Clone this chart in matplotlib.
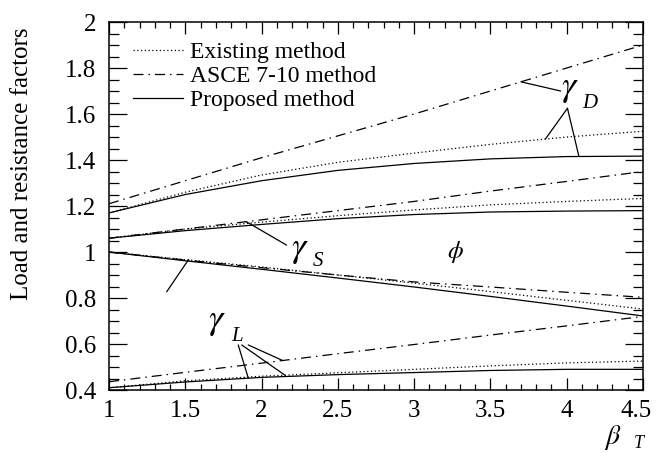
import numpy as np
import matplotlib
matplotlib.use("Agg")
import matplotlib.pyplot as plt
import matplotlib.transforms as mtransforms
from matplotlib.ticker import MultipleLocator

plt.rcParams['font.family'] = 'serif'
plt.rcParams['font.serif'] = ['Liberation Serif', 'DejaVu Serif']
plt.rcParams['mathtext.fontset'] = 'stix'

# target reliability index
beta = [1.0, 1.5, 2.0, 2.5, 3.0, 3.5, 4.0, 4.5]

# dead load factor
gD_exist = [1.17, 1.26, 1.335, 1.39, 1.43, 1.468, 1.50, 1.525]
gD_asce = [1.21, 1.31, 1.41, 1.505, 1.60, 1.70, 1.80, 1.90]
gD_prop = [1.17, 1.25, 1.31, 1.355, 1.385, 1.405, 1.415, 1.417]

# snow load factor
gS_exist = [1.06, 1.10, 1.13, 1.158, 1.183, 1.205, 1.22, 1.233]
gS_asce = [1.06, 1.10, 1.14, 1.18, 1.22, 1.265, 1.307, 1.35]
gS_prop = [1.06, 1.093, 1.12, 1.145, 1.163, 1.174, 1.178, 1.18]

# resistance factor
phi_exist = [1.0, 0.967, 0.935, 0.90, 0.865, 0.828, 0.79, 0.752]
phi_asce = [1.0, 0.965, 0.932, 0.90, 0.87, 0.848, 0.825, 0.803]
phi_prop = [1.0, 0.962, 0.925, 0.887, 0.848, 0.807, 0.765, 0.722]

# live load factor
gL_exist = [0.41, 0.44, 0.46, 0.475, 0.49, 0.505, 0.518, 0.526]
gL_asce = [0.436, 0.477, 0.517, 0.558, 0.598, 0.639, 0.679, 0.72]
gL_prop = [0.41, 0.435, 0.455, 0.467, 0.476, 0.485, 0.49, 0.49]

labels = ['Existing method', 'ASCE 7-10 method', 'Proposed method']
xticks = [1, 1.5, 2, 2.5, 3, 3.5, 4, 4.5]
xticklabels = ['1', '1.5', '2', '2.5', '3', '3.5', '4', '4.5']

dotted = (0, (1, 2))
dashdot = (0, (8, 4, 1.2, 4))
lw = 0.9

fig = plt.figure(figsize=(6.57, 4.53), dpi=100)
ax = fig.add_axes([0.1659, 0.139, 0.8128, 0.8124])

groups = [(gD_exist, gD_asce, gD_prop), (gS_exist, gS_asce, gS_prop),
          (phi_exist, phi_asce, phi_prop), (gL_exist, gL_asce, gL_prop)]
for i, (ex, asce, prop) in enumerate(groups):
    ax.plot(beta, ex, color='black', lw=lw, linestyle=dotted, label=labels[0] if i == 0 else None)
    ax.plot(beta, asce, color='black', lw=lw, linestyle=dashdot, label=labels[1] if i == 0 else None)
    ax.plot(beta, prop, color='black', lw=lw, linestyle='-', label=labels[2] if i == 0 else None)

ax.set_xlim(1, 4.5)
ax.set_ylim(0.4, 2)
ax.set_xticks(xticks, xticklabels)
ax.xaxis.set_minor_locator(MultipleLocator(0.1))
ax.yaxis.set_major_locator(MultipleLocator(0.2))
ax.yaxis.set_minor_locator(MultipleLocator(0.05))
ax.yaxis.set_major_formatter(plt.FuncFormatter(lambda v, p: ('%g' % round(v, 2))))
ax.tick_params(axis='both', which='both', direction='in', top=True, right=True, width=0.9)
ax.tick_params(axis='x', which='major', length=8.5, pad=7, labelsize=18)
ax.tick_params(axis='x', which='minor', length=4)
ax.tick_params(axis='y', which='major', length=13, pad=9, labelsize=18)
ax.tick_params(axis='y', which='minor', length=7)
for s in ax.spines.values():
    s.set_linewidth(1.1)

# last x label sits right at the figure edge, nudge it in a bit
for lab in ax.get_xticklabels():
    if lab.get_text() == '4.5':
        lab.set_transform(lab.get_transform() + mtransforms.ScaledTranslation(-7 / 100, 0, fig.dpi_scale_trans))

ax.set_ylabel('Load and resistance factors', fontsize=18)
ax.yaxis.set_label_coords(-0.142, 0.614)

# x axis label, beta with subscript T
fig.text(0.919, 0.066, r'$\beta$', fontsize=20, va='top')
fig.text(0.965, 0.002, 'T', fontsize=13, style='italic', va='bottom')

ax.legend(loc='upper left', bbox_to_anchor=(0.045, 0.947), frameon=False, fontsize=17,
          handlelength=2.1, handletextpad=0.3, labelspacing=0.1, borderpad=0, borderaxespad=0)

line_kw = dict(arrowprops=dict(arrowstyle='-', color='black', lw=0.9, shrinkA=0, shrinkB=0))

# gamma D
ax.text(4.02, 1.71, r'$\gamma$', fontsize=26, ha='center', va='center')
ax.text(4.15, 1.647, 'D', fontsize=15, style='italic', ha='center', va='center')
ax.annotate('', xy=(3.70, np.interp(3.70, beta, gD_asce)), xytext=(3.96, 1.70), **line_kw)
ax.annotate('', xy=(3.86, np.interp(3.86, beta, gD_exist)), xytext=(4.005, 1.625), **line_kw)
ax.annotate('', xy=(4.08, np.interp(4.08, beta, gD_prop)), xytext=(4.005, 1.625), **line_kw)

# gamma S
ax.text(2.25, 1.009, r'$\gamma$', fontsize=26, ha='center', va='center')
ax.text(2.37, 0.958, 'S', fontsize=15, style='italic', ha='center', va='center')
ax.annotate('', xy=(1.90, np.interp(1.90, beta, gS_asce)), xytext=(2.164, 1.03), **line_kw)

# phi
ax.text(3.27, 1.0, r'$\phi$', fontsize=18, ha='center', va='center')
ax.annotate('', xy=(1.52, np.interp(1.52, beta, phi_exist)), xytext=(1.378, 0.827), **line_kw)

# gamma L
ax.text(1.705, 0.697, r'$\gamma$', fontsize=26, ha='center', va='center')
ax.text(1.84, 0.632, 'L', fontsize=15, style='italic', ha='center', va='center')
ax.annotate('', xy=(1.913, np.interp(1.913, beta, gL_prop)), xytext=(1.847, 0.596), **line_kw)
ax.annotate('', xy=(2.153, np.interp(2.153, beta, gL_exist)), xytext=(1.87, 0.596), **line_kw)
ax.annotate('', xy=(2.138, np.interp(2.138, beta, gL_asce)), xytext=(1.913, 0.596), **line_kw)

fig.savefig('out.png', dpi=100)
